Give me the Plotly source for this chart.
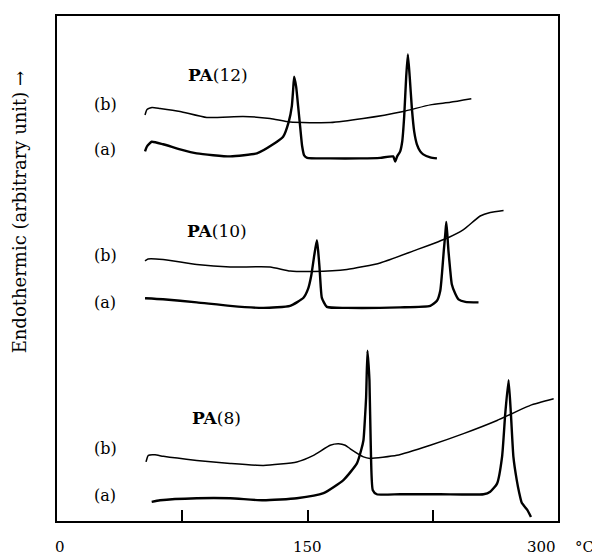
import plotly.graph_objects as go

# ---------------- data (temperature in °C, signal in arbitrary units) ----------------
pa12_a_T = [52.7, 53.9, 56.7, 63.5, 73.7, 83.7, 103.7, 119.7, 129.4, 135.4, 138.8, 140.6, 141.4, 142.0,
            143.2, 144.4, 145.6, 146.8, 148.0, 149.8, 163.6, 181.5, 193.5, 201.3, 202.5, 203.7, 205.5,
            206.7, 207.9, 209.1, 210.1, 211.2, 212.5, 213.9, 215.5, 217.5, 219.3, 223.5, 227.5]
pa12_a_S = [73.2, 74.2, 75.1, 74.6, 73.6, 72.8, 72.2, 72.8, 74.6, 76.1, 79.1, 82.1, 85.4, 88.0,
            86.0, 82.1, 78.1, 74.2, 72.4, 71.9, 71.8, 71.8, 71.9, 72.2, 71.2, 72.2, 73.2,
            75.1, 80.1, 88.0, 92.4, 88.0, 81.7, 77.1, 74.6, 73.2, 72.6, 72.0, 71.8]

pa12_b_T = [52.7, 53.9, 56.9, 61.7, 73.7, 89.7, 111.4, 127.6, 139.6, 163.6, 183.3, 207.3, 223.5, 235.5, 248.1]
pa12_b_S = [80.4, 81.5, 81.9, 81.7, 81.1, 79.9, 80.1, 79.7, 79.0, 78.9, 79.7, 81.1, 82.4, 82.9, 83.6]

pa10_a_T = [52.7, 63.5, 83.7, 103.7, 123.6, 139.6, 147.6, 150.4, 152.2, 154.0, 155.6, 156.4, 157.2,
            157.9, 158.6, 161.6, 173.6, 205.5, 223.5, 227.5, 229.5, 230.5, 231.6, 232.5, 233.1,
            233.8, 234.4, 235.4, 236.4, 238.5, 240.4, 244.5, 252.4]
pa10_a_S = [44.1, 43.9, 43.3, 42.6, 42.2, 42.6, 44.2, 46.0, 48.5, 52.5, 55.6, 53.4, 50.2,
            46.5, 44.2, 42.4, 42.2, 42.3, 42.6, 43.6, 45.6, 48.9, 53.5, 56.8, 59.2,
            56.4, 53.5, 49.9, 46.9, 45.0, 43.9, 43.4, 43.3]

pa10_b_T = [52.7, 54.5, 63.5, 83.7, 103.7, 127.6, 139.6, 153.6, 173.6, 193.5, 213.5, 233.5, 243.4,
            253.4, 259.4, 267.4]
pa10_b_S = [51.5, 51.9, 51.8, 50.8, 50.3, 50.3, 49.5, 49.4, 49.8, 51.1, 53.5, 56.0, 57.7,
            60.4, 61.1, 61.5]

pa8_a_T = [56.7, 61.7, 83.7, 103.7, 123.6, 143.6, 159.6, 171.5, 179.6, 182.1, 183.5, 184.5, 185.1,
           185.9, 186.6, 187.1, 187.9, 189.1, 191.5, 205.5, 229.5, 255.4, 259.4, 263.5, 266.5,
           268.4, 270.4, 271.8, 273.3, 275.3, 276.7, 278.3, 281.6, 283.8]
pa8_a_S = [3.8, 4.1, 4.5, 4.5, 4.1, 4.5, 5.5, 8.1, 11.4, 14.0, 16.0, 20.9, 24.5,
           33.7, 30.8, 27.8, 14.7, 6.1, 5.3, 5.3, 5.3, 5.3, 5.8, 7.4, 12.7,
           21.2, 27.9, 21.2, 12.7, 8.1, 5.7, 3.6, 2.2, 0.8]

pa8_b_T = [53.3, 54.7, 58.7, 63.7, 83.7, 103.7, 123.6, 143.6, 153.6, 163.6, 168.5, 172.6, 175.6,
           183.5, 187.5, 203.5, 223.5, 243.4, 263.5, 283.4, 297.4]
pa8_b_S = [11.7, 13.0, 13.1, 12.8, 12.0, 11.4, 11.0, 11.7, 13.0, 15.0, 15.3, 15.0, 14.3,
           12.7, 12.4, 13.0, 15.0, 17.3, 19.9, 22.9, 24.2]

sample_names = ["<b>PA</b>(12)", "<b>PA</b>(10)", "<b>PA</b>(8)"]
sample_label_T = [77.3, 76.7, 79.7]
sample_label_S = [88.4, 57.4, 20.3]

curve_tags = ["(b)", "(a)", "(b)", "(a)", "(b)", "(a)"]
curve_tag_S = [82.4, 73.6, 52.5, 43.3, 14.4, 5.1]
curve_tag_T = 29.0

tick_marks = [75, 150, 225]
tick_label_vals = [1.5, 150, 300]
tick_label_text = ["0", "150", "300"]
x_unit = "°C"
y_title = "Endothermic (arbitrary unit) →"

# ---------------- figure ----------------
FONT = "DejaVu Serif"
fig = go.Figure()

series = [
    (pa12_b_T, pa12_b_S, 1.5), (pa12_a_T, pa12_a_S, 2.4),
    (pa10_b_T, pa10_b_S, 1.5), (pa10_a_T, pa10_a_S, 2.4),
    (pa8_b_T, pa8_b_S, 1.5), (pa8_a_T, pa8_a_S, 2.4),
]
for T, S, w in series:
    fig.add_trace(go.Scatter(x=T, y=S, mode="lines",
                             line=dict(color="black", width=w, shape="spline", smoothing=0.5),
                             showlegend=False, hoverinfo="skip", cliponaxis=False))

annotations = []
for name, t, s in zip(sample_names, sample_label_T, sample_label_S):
    annotations.append(dict(x=t, y=s, xref="x", yref="y", text=name, showarrow=False,
                            xanchor="left", yanchor="middle",
                            font=dict(family=FONT, size=17, color="black")))
for tag, s in zip(curve_tags, curve_tag_S):
    annotations.append(dict(x=curve_tag_T, y=s, xref="x", yref="y", text=tag, showarrow=False,
                            xanchor="center", yanchor="middle",
                            font=dict(family=FONT, size=16, color="black")))
for v, txt in zip(tick_label_vals, tick_label_text):
    annotations.append(dict(x=v, y=-0.051, xref="x", yref="paper", text=txt, showarrow=False,
                            xanchor="right" if v == 300 else "center",
                            yanchor="middle",
                            font=dict(family=FONT, size=15, color="black")))
annotations.append(dict(x=1.053, y=-0.051, xref="paper", yref="paper", text=x_unit, showarrow=False,
                        xanchor="center", yanchor="middle",
                        font=dict(family=FONT, size=15, color="black")))
annotations.append(dict(x=-0.074, y=0.613, xref="paper", yref="paper", text=y_title, showarrow=False,
                        textangle=-90, xanchor="center", yanchor="middle",
                        font=dict(family=FONT, size=18, color="black")))

# the page body has an 8px default margin, so the figure is sized/margined to compensate
fig.update_layout(
    width=592, height=547,
    margin=dict(l=49, r=42, t=6, b=34),
    paper_bgcolor="white", plot_bgcolor="white",
    annotations=annotations,
    xaxis=dict(range=[0, 300], showgrid=False, zeroline=False, showline=True, mirror=True,
               linecolor="black", linewidth=2, ticks="inside", ticklen=11, tickwidth=2,
               tickcolor="black", tickvals=tick_marks, showticklabels=False),
    yaxis=dict(range=[0, 100], showgrid=False, zeroline=False, showline=True, mirror=True,
               linecolor="black", linewidth=2, ticks="", showticklabels=False),
)

fig.write_html("out.html")
